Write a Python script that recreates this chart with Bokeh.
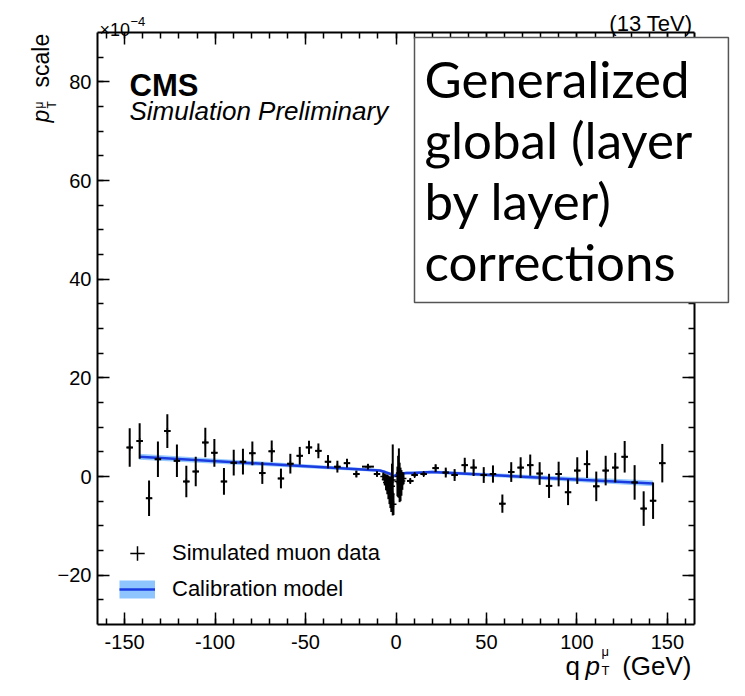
import numpy as np
from math import pi
from bokeh.plotting import figure
from bokeh.models import (ColumnDataSource, Label, Legend, LegendItem, LinearAxis,
                          FixedTicker, Range1d)
from bokeh.embed import file_html
from bokeh.resources import INLINE

# ---------------- data (values in units of 1e-4) ----------------
qpt = [-147.2, -141.7, -136.5, -131.6, -126.4, -121.1, -115.9, -110.7, -105.4, -100.4,
       -95.1, -89.7, -84.6, -79.4, -73.9, -68.7, -63.6, -58.4, -53.2, -48.1,
       -42.9, -37.6, -32.4, -27.1, -21.9, -15.5, -10.5,
       -7.0, -6.2, -5.5, -4.8, -4.2, -3.6, -3.1, -2.6, -2.2, -1.8, -1.4,
       0.8, 1.2, 1.6, 2.0, 2.5, 3.0, 3.5, 4.1,
       7.9, 10.3, 15.3, 21.9, 27.5, 32.4, 38.0, 42.9, 48.5, 53.6,
       58.8, 63.7, 68.9, 74.2, 79.4, 84.6, 89.9, 95.1, 100.2, 105.6,
       110.7, 115.9, 121.2, 126.4, 131.9, 136.9, 142.1, 147.2]
scale = [5.9, 7.2, -4.4, 3.5, 9.2, 3.2, -1.0, 1.0, 6.9, 4.8,
         -1.0, 2.8, 3.0, 4.7, 0.7, 5.1, -0.4, 2.6, 4.2, 5.9,
         5.2, 3.0, 2.0, 2.7, 0.5, 2.0, 0.5,
         0.0, -0.6, -1.2, -1.6, -2.2, -2.8, -3.2, -3.6, -2.0, -0.7, -5.6,
         -1.0, 0.0, 0.7, -1.2, -1.6, -1.3, -0.9, -0.4,
         -0.9, 0.3, 0.5, 1.7, 0.8, 0.3, 2.3, 1.8, 0.3, 0.5,
         -5.5, 0.9, 1.8, 2.3, 0.6, -1.9, 0.5, -3.2, 1.2, 2.5,
         -2.0, 1.2, 1.8, 4.0, -1.2, -6.5, -4.9, 2.7]
scale_err = [3.9, 3.6, 3.6, 3.6, 3.4, 3.3, 3.2, 3.0, 3.0, 2.8,
             2.7, 2.6, 2.6, 2.4, 2.2, 2.2, 2.0, 2.0, 1.8, 1.35,
             1.5, 1.35, 1.2, 0.9, 0.7, 0.5, 0.5,
             0.8, 1.2, 1.6, 2.0, 2.4, 2.8, 3.2, 3.6, 4.6, 7.2, 2.2,
             3.0, 4.2, 5.0, 4.0, 3.4, 2.6, 1.8, 1.2,
             0.5, 0.4, 0.4, 0.8, 1.0, 1.2, 1.5, 1.7, 1.6, 1.75,
             1.85, 2.0, 2.1, 2.15, 2.3, 2.45, 2.5, 2.6, 2.7, 2.8,
             3.0, 3.0, 3.0, 3.2, 3.5, 3.5, 3.7, 3.9]
qpt_err = [1.8] * 25 + [3.3, 1.8] + [0.3] * 19 + [1.8] * 28

model_qpt = [-142.0, -9.0, -6.0, -3.0, -1.5, 0.0, 1.5, 3.0, 6.0, 9.0, 20.0, 142.0]
model_scale = [4.0, 1.2, 0.9, 0.5, 0.0, 0.3, 0.5, 0.6, 0.7, 0.7, 0.9, -1.4]
model_err = [0.6, 0.3, 0.3, 0.3, 0.3, 0.3, 0.3, 0.3, 0.3, 0.3, 0.3, 0.6]

x_lim = (-165, 165)
y_lim = (-30, 90)
x_ticks = [-150, -100, -50, 0, 50, 100, 150]
x_tick_labels = ["-150", "-100", "-50", "0", "50", "100", "150"]
x_minor_ticks = list(range(-160, 161, 10))
y_ticks = [-20, 0, 20, 40, 60, 80]
y_tick_labels = ["\u221220", "0", "20", "40", "60", "80"]
y_minor_ticks = list(range(-25, 90, 5))

legend_labels = ["Simulated muon data", "Calibration model"]
box_text = "Generalized\nglobal (layer\nby layer)\ncorrections"

# ---------------- layout ----------------
# page has an 8px margin: canvas pixel = page pixel - 8
M = 8
W, H = 737, 680
FL, FR, FT, FB = 105 - M, 702 - M, 40 - M, 632 - M   # axes box on the canvas
xs = (FR - FL) / (x_lim[1] - x_lim[0])
ys = (FB - FT) / (y_lim[1] - y_lim[0])
x_range = Range1d(x_lim[0] - FL / xs, x_lim[1] + (W - FR) / xs)
y_range = Range1d(y_lim[0] - (H - FB) / ys, y_lim[1] + FT / ys)

FONT = "Liberation Sans"
p = figure(width=W, height=H, x_range=x_range, y_range=y_range,
           output_backend="svg", toolbar_location=None,
           x_axis_location=None, y_axis_location=None,
           min_border_left=0, min_border_right=0, min_border_top=0, min_border_bottom=0)
p.grid.visible = False
p.outline_line_color = None
p.background_fill_color = "white"
p.border_fill_color = "white"


def make_axis(ticks, minor, bounds, loc, labels_visible, overrides):
    ax = LinearAxis(ticker=FixedTicker(ticks=ticks, minor_ticks=minor),
                    bounds=bounds, fixed_location=loc)
    ax.axis_line_color = "black"
    ax.axis_line_width = 2
    ax.major_tick_in = 12
    ax.major_tick_out = 0
    ax.minor_tick_in = 6
    ax.minor_tick_out = 0
    ax.major_tick_line_width = 1.5
    ax.minor_tick_line_width = 1.5
    ax.major_tick_line_color = "black"
    ax.minor_tick_line_color = "black"
    if labels_visible:
        ax.major_label_text_font = FONT
        ax.major_label_text_font_size = "20px"
        ax.major_label_text_color = "black"
        ax.major_label_overrides = overrides
    else:
        ax.major_label_text_font_size = "0px"
        ax.major_label_text_color = None
        ax.major_label_standoff = 0
    return ax


xover = {t: l for t, l in zip(x_ticks, x_tick_labels)}
yover = {t: l for t, l in zip(y_ticks, y_tick_labels)}
xb = make_axis(x_ticks, x_minor_ticks, x_lim, y_lim[0], True, xover)
xb.major_label_standoff = 10
xt = make_axis(x_ticks, x_minor_ticks, x_lim, y_lim[1], False, {})
yl = make_axis(y_ticks, y_minor_ticks, y_lim, x_lim[0], True, yover)
yl.major_label_standoff = 6
yr = make_axis(y_ticks, y_minor_ticks, y_lim, x_lim[1], False, {})
p.add_layout(xb, "below")
p.add_layout(xt, "above")
p.add_layout(yl, "left")
p.add_layout(yr, "right")

# model band and line
ms = np.array(model_scale)
me = np.array(model_err)
msrc = ColumnDataSource(dict(x=model_qpt, y=model_scale, lo=ms - me, hi=ms + me))
p.varea(x="x", y1="lo", y2="hi", source=msrc, fill_color="#8ec5ff", fill_alpha=0.9)
model_line = p.line("x", "y", source=msrc, line_color="#1a3be0", line_width=2.5)
# one-point line: draws nothing in the plot, gives the legend its light-blue band key
band_key = p.line(x=model_qpt[:1], y=model_scale[:1], line_color="#8ec5ff",
                  line_width=18, line_cap="butt")

# data points with error bars
y = np.array(scale)
ey = np.array(scale_err)
x = np.array(qpt)
ex = np.array(qpt_err)
dsrc = ColumnDataSource(dict(x=x, y=y, ylo=y - ey, yhi=y + ey, xlo=x - ex, xhi=x + ex))
p.segment(x0="x", y0="ylo", x1="x", y1="yhi", source=dsrc, line_color="black", line_width=2)
p.segment(x0="xlo", y0="y", x1="xhi", y1="y", source=dsrc, line_color="black", line_width=2)
pts = p.scatter("x", "y", source=dsrc, marker="cross", size=6, line_color="black", line_width=1.5)

legend = Legend(items=[LegendItem(label=legend_labels[0], renderers=[pts]),
                       LegendItem(label=legend_labels[1], renderers=[band_key, model_line])],
                location=(127 - M, H - (615 - M)), padding=0, margin=0, spacing=0,
                glyph_width=36, glyph_height=36, label_standoff=17,
                label_text_font=FONT, label_text_font_size="22px", label_text_color="black",
                border_line_color=None, background_fill_alpha=0)
p.add_layout(legend, "center")


def lab(text, px, py, size, align="left", baseline="alphabetic", style="normal",
        font=FONT, angle=0.0, **kw):
    # px, py: page pixels from the window's top-left corner
    p.add_layout(Label(x=px - M, y=H - (py - M), x_units="screen", y_units="screen",
                       text=text, text_font=font, text_font_size=size, text_align=align,
                       text_baseline=baseline, text_font_style=style, angle=angle,
                       text_color="black", **kw))


lab("\u00d710", 107, 37, "18px")
lab("\u22124", 138, 29, "13px")
lab("(13 TeV)", 700, 31, "22px", align="right")
lab("CMS", 137, 93, "31px", style="bold")
lab("Simulation Preliminary", 137, 118, "26px", style="italic")

# y-axis title (rotated, reads upward)
lab("p", 48.3, 130, "23px", style="italic", angle=pi / 2)
lab("\u03bc", 46, 116, "12px", angle=pi / 2)
lab("T", 59, 116, "12px", angle=pi / 2)
lab("scale", 48.3, 95, "23px", angle=pi / 2)

# x-axis title
lab("q", 573, 673, "26px")
lab("p", 593, 673, "26px", style="italic")
lab("\u03bc", 609, 659, "13px")
lab("T", 609, 678, "13px")
lab("(GeV)", 699, 673, "26px", align="right")

# overlay text box (anchor = box corner)
lab(box_text, 422, 45, "51px", baseline="top", font="Lato",
    text_line_height=1.0, background_fill_color="white", background_fill_alpha=1.0,
    border_line_color="#555555", border_line_width=1.5, padding=(10, 36, 10, 11))

open("out.html", "w").write(file_html(p, INLINE))
